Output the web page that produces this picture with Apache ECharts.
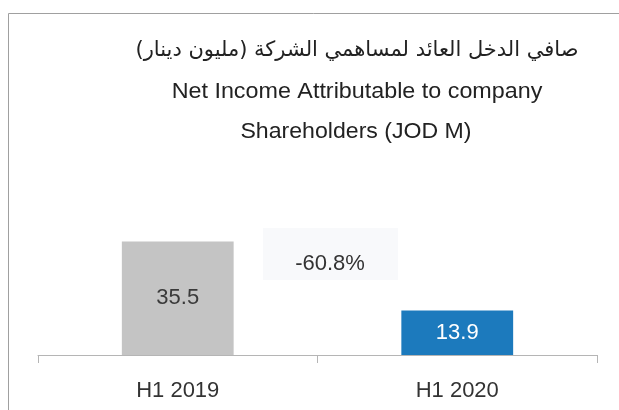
<!DOCTYPE html>
<html>
<head>
<meta charset="utf-8">
<script src="https://cdn.jsdelivr.net/npm/echarts@6/dist/echarts.min.js"></script>
<style>
  html, body { margin: 0; padding: 0; background: #fff; }
  #chart { width: 619px; height: 410px; }
</style>
</head>
<body>
<div id="chart"></div>
<script>
const categories = ['H1 2019', 'H1 2020']
const netIncome = [35.5, 13.9]
const barColors = ['#c4c4c4', '#1c7abd']
const labelColors = ['#3a3a3a', '#ffffff']
const changeText = '-60.8%'

const titleAr = 'صافي الدخل العائد لمساهمي الشركة (مليون دينار)'
const titleEn1 = 'Net Income Attributable to company'
const titleEn2 = 'Shareholders (JOD M)'

const chart = echarts.init(document.getElementById('chart'))

const latin = '"Liberation Sans", Arial, sans-serif'

const option = {
  animation: false,
  backgroundColor: '#fff',
  textStyle: { fontFamily: latin },
  graphic: [
    // frame lines (top and left)
    { type: 'line', shape: { x1: 8.5, y1: 13.5, x2: 619, y2: 13.5 }, style: { stroke: '#a0a0a0', lineWidth: 1 } },
    { type: 'line', shape: { x1: 8.5, y1: 13.5, x2: 8.5, y2: 410 }, style: { stroke: '#a0a0a0', lineWidth: 1 } },
    {
      type: 'text', x: 357, y: 51,
      style: { text: titleAr, font: '21px "DejaVu Sans", sans-serif', fill: '#222', align: 'center', verticalAlign: 'middle' }
    },
    {
      type: 'text', x: 357, y: 92, scaleX: 1.06,
      style: { text: titleEn1, font: '22px ' + latin, fill: '#222', align: 'center', verticalAlign: 'middle' }
    },
    {
      type: 'text', x: 356, y: 132, scaleX: 1.05,
      style: { text: titleEn2, font: '22px ' + latin, fill: '#222', align: 'center', verticalAlign: 'middle' }
    },
    // faint box behind the change
    { type: 'rect', shape: { x: 263, y: 228, width: 135, height: 52 }, style: { fill: '#f8f9fb' }, z: 0 },
    {
      type: 'text', x: 330, y: 264,
      style: { text: changeText, font: '22px ' + latin, fill: '#333', align: 'center', verticalAlign: 'middle' }
    }
  ],
  grid: { left: 38, right: 22, top: 195, bottom: 55 },
  xAxis: {
    type: 'category',
    data: categories,
    axisLine: { lineStyle: { color: '#b5b5b5' } },
    axisTick: { show: true, length: 8, lineStyle: { color: '#b5b5b5' } },
    axisLabel: { color: '#333', fontSize: 22, margin: 25, fontFamily: latin }
  },
  yAxis: {
    type: 'value', min: 0, max: 50, show: false,
    splitLine: { show: false }
  },
  series: [
    {
      type: 'bar',
      barWidth: '40%',
      data: netIncome.map((v, i) => ({
        value: v,
        itemStyle: { color: barColors[i] },
        label: { color: labelColors[i] }
      })),
      label: {
        show: true,
        position: 'inside',
        fontSize: 22,
        fontFamily: latin
      }
    }
  ]
}

chart.setOption(option)
</script>
</body>
</html>
